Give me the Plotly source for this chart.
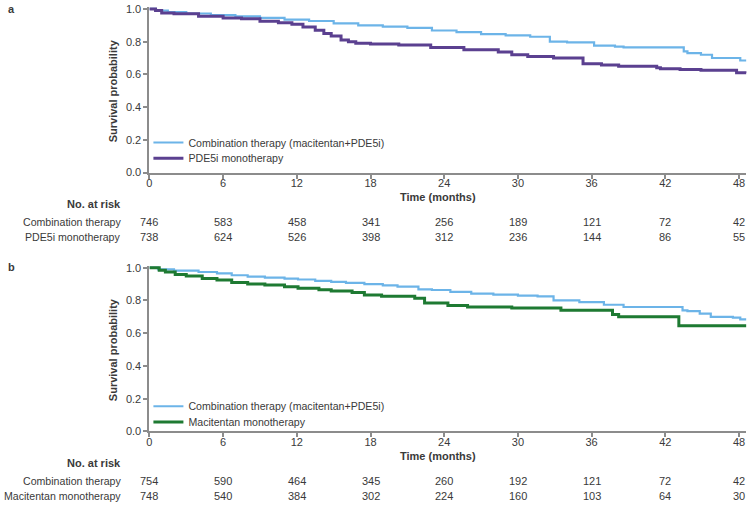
import plotly.graph_objects as go

# ---------------- data ----------------
tick_months = [0, 6, 12, 18, 24, 30, 36, 42, 48]

# Panel a
a_combo_t = [0, 0.5, 1.5, 3, 5, 7, 9, 11, 13, 15, 17, 19, 21, 23, 25, 27, 29, 31, 32.6, 34, 36.2,
             37.9, 38.6, 43.5, 43.8, 44.9, 45.8, 47.0, 48.1, 48.6]
a_combo_s = [1.0, 0.99, 0.98, 0.972, 0.962, 0.954, 0.945, 0.935, 0.926, 0.912, 0.90, 0.892, 0.884,
             0.868, 0.858, 0.846, 0.838, 0.83, 0.80, 0.795, 0.776, 0.77, 0.765, 0.74, 0.73, 0.72,
             0.70, 0.70, 0.685, 0.685]
a_pde_t = [0, 0.5, 1, 2, 4, 6, 7.5, 9, 10.5, 11.6, 12.5, 13.5, 14.2, 14.8, 15.6, 16.2, 16.8, 18,
           20.3, 22.9, 25.6, 28.4, 29.5, 30.8, 32.9, 35.3, 36.8, 38.2, 41.3, 41.6, 43.2, 44.9,
           47.8, 48.6]
a_pde_s = [1.0, 0.99, 0.975, 0.97, 0.955, 0.945, 0.94, 0.925, 0.915, 0.906, 0.89, 0.87, 0.85,
           0.835, 0.81, 0.80, 0.79, 0.785, 0.78, 0.765, 0.75, 0.737, 0.72, 0.71, 0.70, 0.665,
           0.657, 0.65, 0.64, 0.635, 0.63, 0.625, 0.61, 0.608]

# Panel b
b_combo_t = [0, 0.7, 2, 4, 5.5, 6.7, 8, 9.4, 11, 12.1, 13.5, 14.8, 16, 17.5, 19, 20.2, 21.9, 23,
             24.5, 26.2, 28, 30, 31.6, 32.9, 35, 37, 38.6, 43.4, 43.8, 44.8, 45.7, 47.5, 48.1, 48.6]
b_combo_s = [1.0, 0.99, 0.982, 0.974, 0.965, 0.954, 0.946, 0.94, 0.934, 0.928, 0.92, 0.914, 0.908,
             0.90, 0.892, 0.884, 0.868, 0.864, 0.852, 0.842, 0.836, 0.83, 0.825, 0.80, 0.79,
             0.774, 0.76, 0.74, 0.735, 0.72, 0.70, 0.695, 0.684, 0.684]
b_maci_t = [0, 0.8, 1.3, 2.1, 3, 4.3, 5.5, 6.7, 8, 9.4, 11, 12.1, 13.8, 14.8, 16.5, 17.5, 18.9,
            21.6, 22.4, 24.3, 25.9, 29.5, 33.5, 37.7, 38.2, 43.1, 48.6]
b_maci_s = [1.0, 0.985, 0.974, 0.958, 0.95, 0.934, 0.925, 0.91, 0.90, 0.894, 0.884, 0.874, 0.866,
            0.858, 0.848, 0.834, 0.826, 0.814, 0.784, 0.77, 0.76, 0.754, 0.74, 0.714, 0.70,
            0.645, 0.645]

# Numbers at risk
a_risk_combo = [746, 583, 458, 341, 256, 189, 121, 72, 42]
a_risk_pde = [738, 624, 526, 398, 312, 236, 144, 86, 55]
b_risk_combo = [754, 590, 464, 345, 260, 192, 121, 72, 42]
b_risk_maci = [748, 540, 384, 302, 224, 160, 103, 64, 30]

# ---------------- styling ----------------
W, H = 748, 510
FONT = "Liberation Sans, Arial, sans-serif"
FS = 11
FL = 10.6  # labels / legend text
TXT = "#3a3a3a"
AX = "#8c8c8c"
BLUE = "#6cb4e8"
PURPLE = "#5b4090"
GREEN = "#1e7a32"

def py(p):
    return 1 - p / H

def px(p):
    return p / W

X0, X48 = 147, 739
XMAX = 48.6
x_dom = [px(X0), px(X0 + XMAX * (X48 - X0) / 48)]
YTOP = 1.012

def ydom(p0, p1):
    b = py(p0)
    t = py(p1)
    return [b, b + YTOP * (t - b)]

a_dom = ydom(172, 5)
b_dom = ydom(436, 269)

fig = go.Figure()
fig.add_trace(go.Scatter(x=a_combo_t, y=a_combo_s, mode="lines", line=dict(color=BLUE, width=2.2, shape="hv"),
                         name="Combination therapy (macitentan+PDE5i)", xaxis="x", yaxis="y", legend="legend"))
fig.add_trace(go.Scatter(x=a_pde_t, y=a_pde_s, mode="lines", line=dict(color=PURPLE, width=3, shape="hv"),
                         name="PDE5i monotherapy", xaxis="x", yaxis="y", legend="legend2"))
fig.add_trace(go.Scatter(x=b_combo_t, y=b_combo_s, mode="lines", line=dict(color=BLUE, width=2.2, shape="hv"),
                         name="Combination therapy (macitentan+PDE5i)", xaxis="x2", yaxis="y2", legend="legend3"))
fig.add_trace(go.Scatter(x=b_maci_t, y=b_maci_s, mode="lines", line=dict(color=GREEN, width=3, shape="hv"),
                         name="Macitentan monotherapy", xaxis="x2", yaxis="y2", legend="legend4"))
fig.update_traces(showlegend=True)

axis_common = dict(showline=True, linecolor=AX, linewidth=2, ticks="outside", ticklen=4, tickcolor=AX,
                   tickwidth=1.5, showgrid=False, zeroline=False,
                   tickfont=dict(family=FONT, size=FS, color=TXT))
xcommon = dict(axis_common, range=[0, XMAX], tickvals=tick_months, domain=x_dom, ticklabelstandoff=-5)
ycommon = dict(axis_common, range=[0, YTOP], tickvals=[0, 0.2, 0.4, 0.6, 0.8, 1.0],
               ticktext=["0.0", "0.2", "0.4", "0.6", "0.8", "1.0"])

def leg(center_py, off):
    return dict(x=px(146), y=py(center_py - off), xanchor="left", yanchor="top",
                bgcolor="rgba(0,0,0,0)", font=dict(family=FONT, size=FL, color=TXT), itemwidth=30)

fig.update_layout(
    width=W, height=H, margin=dict(l=0, r=0, t=0, b=0),
    paper_bgcolor="white", plot_bgcolor="white", showlegend=True,
    font=dict(family=FONT, size=FS, color=TXT),
    xaxis=dict(xcommon, anchor="y"),
    yaxis=dict(ycommon, domain=a_dom, anchor="x"),
    xaxis2=dict(xcommon, anchor="y2"),
    yaxis2=dict(ycommon, domain=b_dom, anchor="x2"),
    legend=leg(142, 15.5), legend2=leg(158, 15.5), legend3=leg(406, 10.5), legend4=leg(422, 10.5),
)

ann = []
# panel labels
ann.append(dict(text="<b>a</b>", x=px(3), y=py(5), xref="paper", yref="paper", xanchor="left",
                yanchor="middle", showarrow=False, font=dict(size=FS)))
ann.append(dict(text="<b>b</b>", x=px(3), y=py(268), xref="paper", yref="paper", xanchor="left",
                yanchor="middle", showarrow=False, font=dict(size=FS)))
# y titles
for yc in [(5 + 172) / 2, (269 + 436) / 2]:
    ann.append(dict(text="<b>Survival probability</b>", x=px(110), y=py(yc), xref="paper", yref="paper",
                    textangle=-90, xanchor="center", yanchor="middle", showarrow=False,
                    font=dict(size=FS)))
# x titles
for axp in [172, 436]:
    ann.append(dict(text="<b>Time (months)</b>", x=px(437), y=py(axp + 25), xref="paper", yref="paper",
                    xanchor="center", yanchor="middle", showarrow=False, font=dict(size=FS)))

# at-risk tables
tables = [
    (172, "x", ["Combination therapy", "PDE5i monotherapy"], [a_risk_combo, a_risk_pde]),
    (436, "x2", ["Combination therapy", "Macitentan monotherapy"], [b_risk_combo, b_risk_maci]),
]
for axp, xr, labels, rows in tables:
    ann.append(dict(text="<b>No. at risk</b>", x=px(120), y=py(axp + 32), xref="paper", yref="paper",
                    xanchor="right", yanchor="middle", showarrow=False, font=dict(size=FS)))
    for i, (lab, vals) in enumerate(zip(labels, rows)):
        yy = py(axp + 50.5 + 15.5 * i)
        ann.append(dict(text=lab, x=px(120), y=yy, xref="paper", yref="paper", xanchor="right",
                        yanchor="middle", showarrow=False, font=dict(size=FL)))
        for t, v in zip(tick_months, vals):
            ann.append(dict(text=str(v), x=t, y=yy, xref=xr, yref="paper", xanchor="center",
                            yanchor="middle", showarrow=False, font=dict(size=FS)))

fig.update_layout(annotations=ann)
fig.write_html("out.html")
